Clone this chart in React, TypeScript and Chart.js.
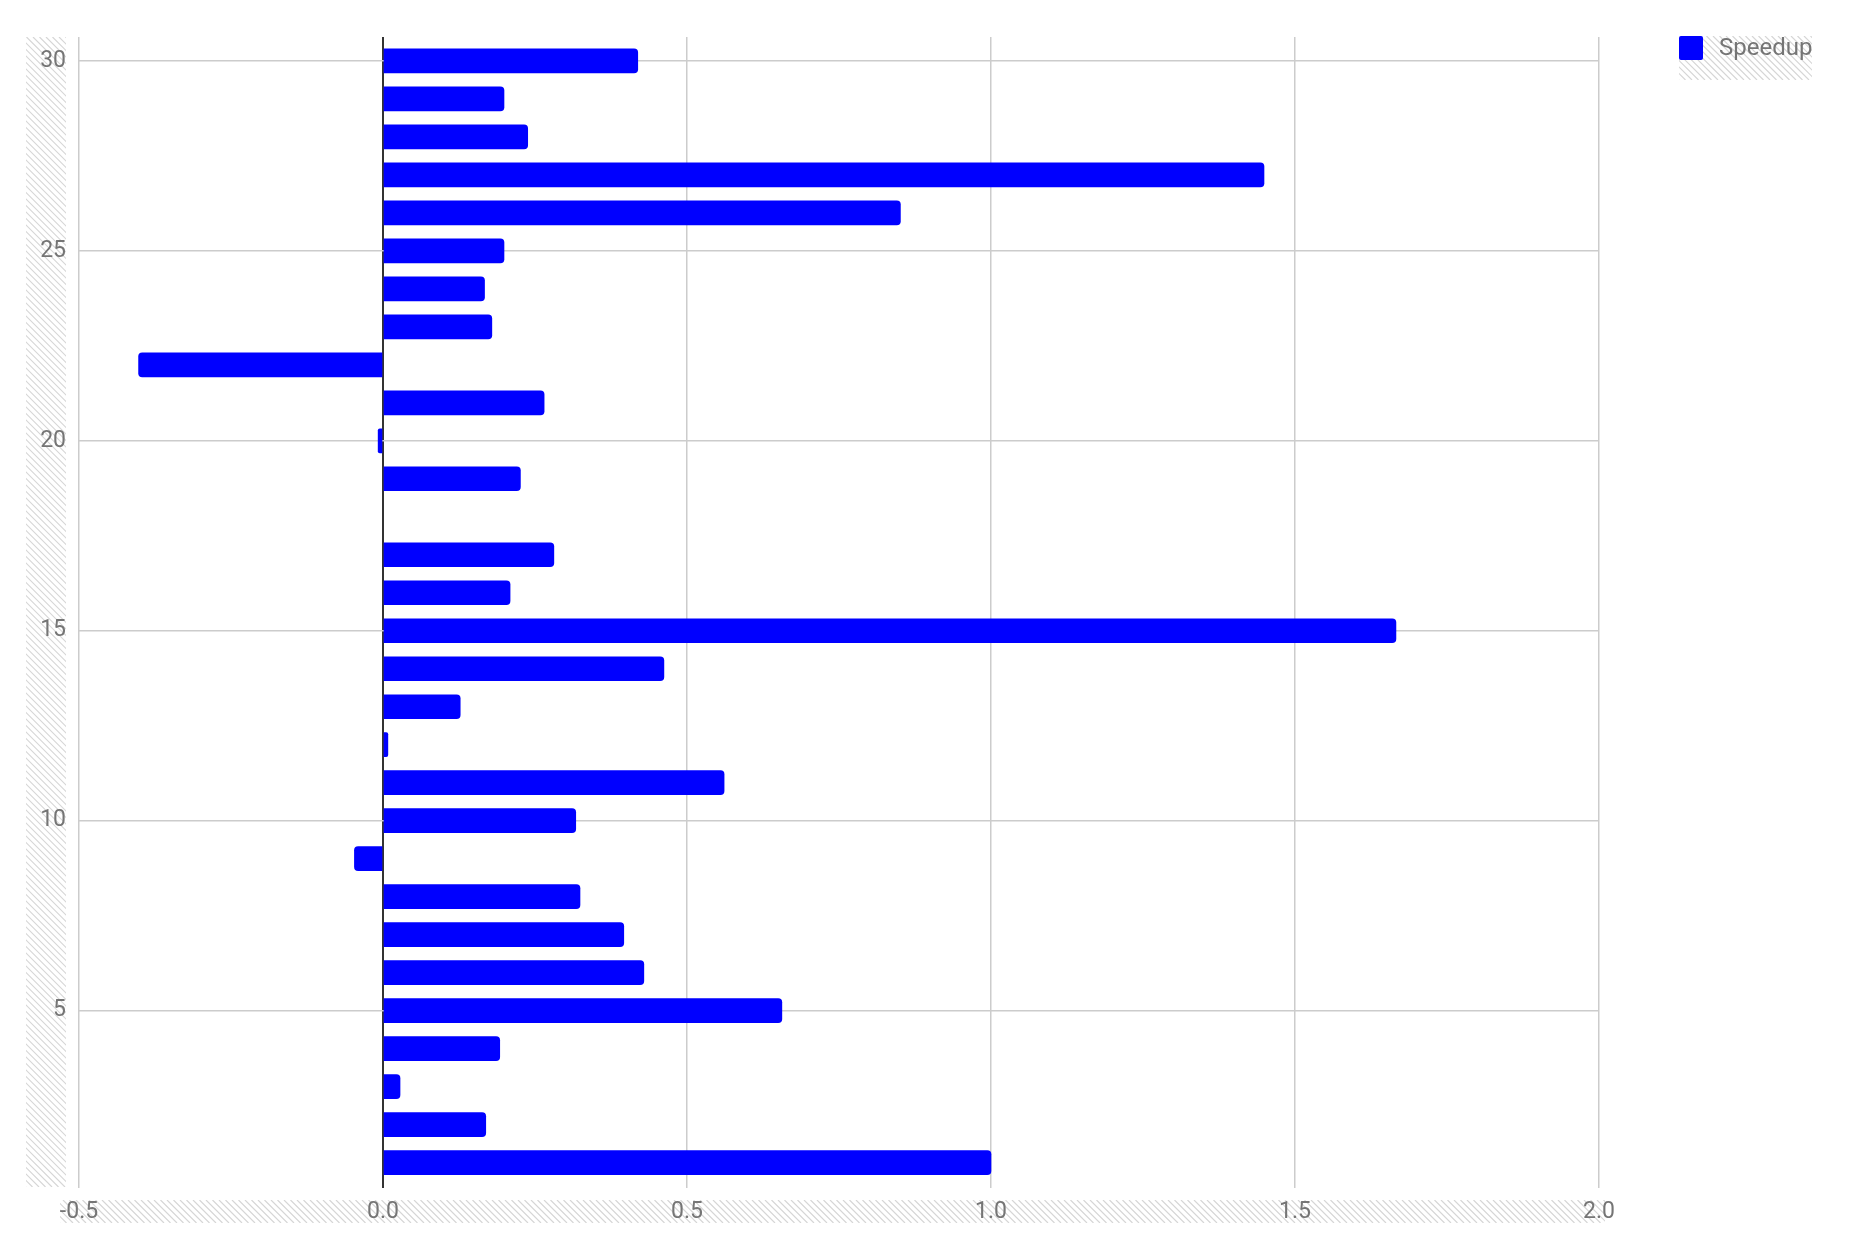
import React, { useEffect, useRef } from "react";
import { Chart, registerables } from "chart.js";

Chart.register(...registerables);

const categories: number[] = [
  1, 2, 3, 4, 5, 6, 7, 8, 9, 10, 11, 12, 13, 14, 15, 16, 17, 18, 19, 20, 21, 22, 23, 24, 25, 26, 27, 28, 29, 30,
];
const speedup: (number | null)[] = [
  1.0, 0.169, 0.028, 0.192, 0.656, 0.429, 0.396, 0.324, -0.047, 0.317, 0.561, 0.008, 0.127, 0.462, 1.666, 0.209,
  0.281, null, 0.226, -0.008, 0.265, -0.402, 0.179, 0.167, 0.199, 0.851, 1.449, 0.238, 0.199, 0.419,
];
const seriesLabel = "Speedup";
const xTicks: number[] = [-0.5, 0.0, 0.5, 1.0, 1.5, 2.0];
const yTicks: number[] = [5, 10, 15, 20, 25, 30];

const BLUE = "#0000ff";
const GRID = "#cccccc";
const TEXT = "#757575";
const FONT = "Roboto";

function hatch(ctx: CanvasRenderingContext2D, x: number, y: number, w: number, h: number) {
  ctx.save();
  ctx.beginPath();
  ctx.rect(x, y, w, h);
  ctx.clip();
  ctx.strokeStyle = "#d6d6d6";
  ctx.lineWidth = 1.2;
  ctx.beginPath();
  for (let i = -h; i < w + h; i += 6.5) {
    ctx.moveTo(x + i, y);
    ctx.lineTo(x + i + h, y + h);
  }
  ctx.stroke();
  ctx.restore();
}

export default function App() {
  const ref = useRef<HTMLCanvasElement | null>(null);

  useEffect(() => {
    const canvas = ref.current;
    if (!canvas) return;

    const hatchPlugin = {
      id: "hatchAreas",
      beforeDraw(chart: any) {
        const ctx = chart.ctx as CanvasRenderingContext2D;
        const a = chart.chartArea;
        hatch(ctx, 26, a.top, 40, a.bottom - a.top - 1);
        hatch(ctx, 60, 1200, 1545, 23);
        hatch(ctx, 1679, 36, 133, 44);
      },
    };

    const legendPlugin = {
      id: "customLegend",
      afterDraw(chart: any) {
        const ctx = chart.ctx as CanvasRenderingContext2D;
        ctx.save();
        ctx.fillStyle = BLUE;
        ctx.beginPath();
        (ctx as any).roundRect(1679, 36, 24, 24, 2);
        ctx.fill();
        ctx.fillStyle = TEXT;
        ctx.font = `24px ${FONT}`;
        ctx.textBaseline = "middle";
        ctx.textAlign = "left";
        ctx.fillText(seriesLabel, 1719, 49);
        ctx.restore();
      },
    };

    const chart = new Chart(canvas, {
      type: "bar",
      data: {
        datasets: [
          {
            label: seriesLabel,
            data: categories.map((c, i) => ({ x: speedup[i] as any, y: c })),
            backgroundColor: BLUE,
            borderWidth: 0,
            borderRadius: 4,
            borderSkipped: "start",
            barThickness: 24,
          },
        ],
      },
      options: {
        indexAxis: "y",
        responsive: false,
        animation: false,
        devicePixelRatio: 1,
        layout: { padding: { top: 37, left: 0, right: 263, bottom: 0 } },
        plugins: { legend: { display: false }, tooltip: { enabled: false } },
        scales: {
          x: {
            type: "linear",
            position: "bottom",
            min: -0.5,
            max: 2.0,
            offset: false,
            afterFit: (s: any) => {
              s.height = 70;
            },
            afterBuildTicks: (s: any) => {
              s.ticks = xTicks.map((v) => ({ value: v }));
            },
            ticks: {
              color: TEXT,
              font: { family: FONT, size: 23 },
              padding: 10,
              callback: (v: any) => Number(v).toFixed(1),
              maxRotation: 0,
            },
            grid: {
              offset: false,
              color: (c: any) => (c.tick && c.tick.value === 0 ? "#333333" : GRID),
              lineWidth: (c: any) => (c.tick && c.tick.value === 0 ? 2 : 1.5),
              drawTicks: false,
            },
            border: { display: false },
          },
          y: {
            type: "linear",
            min: 0.33,
            max: 30.63,
            offset: false,
            afterFit: (s: any) => {
              s.width = 79;
            },
            afterBuildTicks: (s: any) => {
              s.ticks = yTicks.map((v) => ({ value: v }));
            },
            ticks: {
              color: TEXT,
              font: { family: FONT, size: 23 },
              padding: 13,
              callback: (v: any) => String(v),
            },
            grid: { offset: false, color: GRID, lineWidth: 1.5, drawTicks: false },
            border: { display: false },
          },
        },
      },
      plugins: [hatchPlugin, legendPlugin],
    } as any);

    return () => chart.destroy();
  }, []);

  return (
    <div style={{ position: "fixed", left: 0, top: 0, width: 1862, height: 1258, background: "#fff" }}>
      <canvas ref={ref} width={1862} height={1258} style={{ width: 1862, height: 1258, display: "block" }} />
    </div>
  );
}
